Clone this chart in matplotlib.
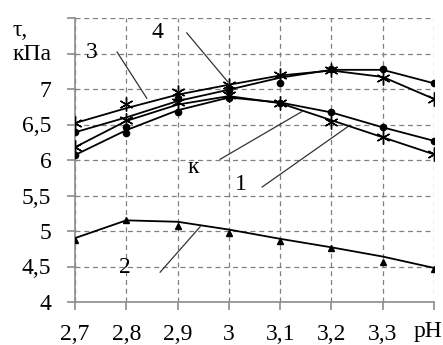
import matplotlib
matplotlib.use("Agg")
import matplotlib.pyplot as plt

plt.rcParams['font.family'] = ['Liberation Serif', 'DejaVu Serif']

# pH values
ph = [2.7, 2.8, 2.9, 3.0, 3.1, 3.2, 3.3, 3.4]
ph_labels = ['2,7', '2,8', '2,9', '3', '3,1', '3,2', '3,3', '']

# measured points (markers)
pts_3 = [6.52, 6.79, 6.96, 7.06, 7.20, 7.27, 7.15, 6.86]   # asterisks, upper
pts_4 = [6.39, 6.47, 6.87, 6.99, 7.08, 7.28, 7.28, 7.08]   # dots, upper
pts_1 = [6.18, 6.56, 6.82, 6.92, 6.80, 6.54, 6.32, 6.08]   # asterisks, lower
pts_k = [6.07, 6.38, 6.68, 6.87, 6.80, 6.68, 6.46, 6.27]   # dots, lower
pts_2 = [4.87, 5.15, 5.07, 4.97, 4.86, 4.76, 4.56, 4.46]   # triangles

# trend lines read at the same pH values
line_3 = [6.52, 6.73, 6.92, 7.06, 7.19, 7.26, 7.17, 6.86]
line_4 = [6.39, 6.60, 6.83, 6.99, 7.16, 7.27, 7.27, 7.08]
line_1 = [6.18, 6.55, 6.78, 6.90, 6.80, 6.56, 6.32, 6.08]
line_k = [6.07, 6.42, 6.70, 6.88, 6.81, 6.67, 6.46, 6.27]
line_2 = [4.90, 5.15, 5.13, 5.02, 4.89, 4.77, 4.64, 4.48]

y_ticks = [4, 4.5, 5, 5.5, 6, 6.5, 7, 7.5, 8]
y_labels = ['4', '4,5', '5', '5,5', '6', '6,5', '7', '', '']

fig = plt.figure(figsize=(4.43, 3.45), dpi=100)
ax = fig.add_axes([75/443, 1-302/345, (434-75)/443, (302-18)/345])

star = (6, 2, 0)
ax.plot(ph, line_3, color='black', lw=1.3, zorder=3)
ax.plot(ph, pts_3, ls='none', marker=star, ms=10, mew=1.0, color='black', zorder=4)
ax.plot(ph, line_4, color='black', lw=1.3, zorder=3)
ax.plot(ph, pts_4, ls='none', marker='o', ms=4.5, color='black', zorder=4)
ax.plot(ph, line_1, color='black', lw=1.3, zorder=3)
ax.plot(ph, pts_1, ls='none', marker=star, ms=10, mew=1.0, color='black', zorder=4)
ax.plot(ph, line_k, color='black', lw=1.3, zorder=3)
ax.plot(ph, pts_k, ls='none', marker='o', ms=4.5, color='black', zorder=4)
ax.plot(ph, line_2, color='black', lw=1.3, zorder=3)
ax.plot(ph, pts_2, ls='none', marker='^', ms=5, color='black', zorder=4)

ax.set_xlim(2.7, 3.4)
ax.set_ylim(4, 8)
ax.set_xticks(ph)
ax.set_xticklabels(ph_labels)
ax.set_yticks(y_ticks)
ax.set_yticklabels(y_labels)
ax.grid(True, ls=(0, (4, 3)), color='#808080', lw=0.9)
ax.set_axisbelow(True)
for s in ['top', 'right']:
    ax.spines[s].set_visible(False)
for s in ['left', 'bottom']:
    ax.spines[s].set_color('#8c8c8c')
    ax.spines[s].set_linewidth(1.2)
ax.tick_params(axis='both', colors='#8c8c8c', labelcolor='black', labelsize=17,
               length=6, width=1.2)
ax.tick_params(axis='y', pad=11)
ax.tick_params(axis='x', pad=10)

# axis captions
fig.text(13/443, 1-30/345, 'τ,', fontsize=17, ha='left', va='center')
fig.text(13/443, 1-54/345, 'кПа', fontsize=17, ha='left', va='center')
fig.text(442/443, 1-331/345, 'pH', fontsize=17, ha='right', va='center')

# curve labels with leader lines
labels = [
    ('3', (2.733, 7.52), (2.782, 7.52), (2.840, 6.87)),
    ('4', (2.860, 7.79), (2.918, 7.79), (2.998, 7.10)),
    ('к', (2.930, 5.90), (2.983, 6.01), (3.142, 6.68)),
    ('1', (3.024, 5.66), (3.065, 5.62), (3.236, 6.49)),
    ('2', (2.797, 4.48), (2.866, 4.42), (2.944, 5.06)),
]
for txt, pos, p0, p1 in labels:
    ax.text(pos[0], pos[1], txt, fontsize=17, ha='center', va='center', zorder=5)
    ax.plot([p0[0], p1[0]], [p0[1], p1[1]], color='#333333', lw=0.9, zorder=2)

fig.savefig('out.png', dpi=100)
